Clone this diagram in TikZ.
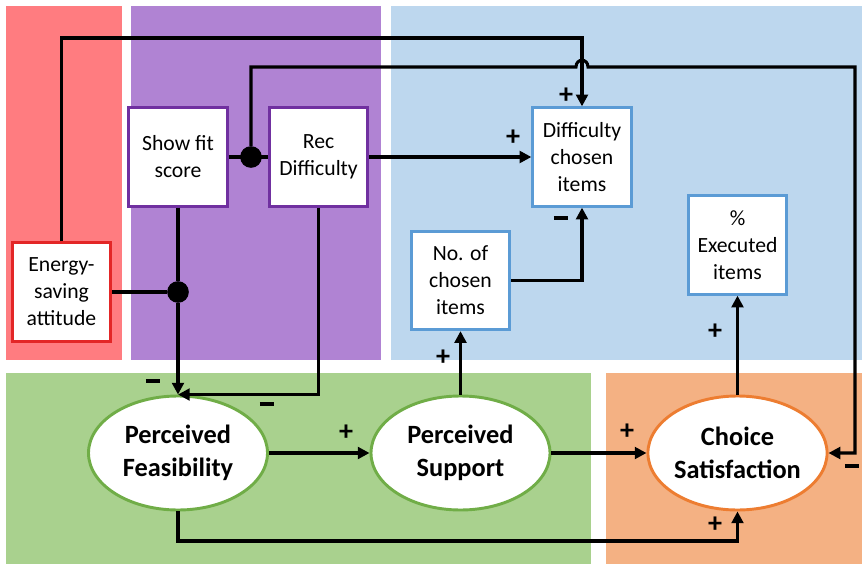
\documentclass[tikz,border=0pt]{standalone}
\usepackage{fontspec}
\setmainfont{Carlito}
\usetikzlibrary{arrows.meta, positioning, shapes.geometric}

\definecolor{panelred}{HTML}{FF7C80}
\definecolor{panelpurple}{HTML}{B083D3}
\definecolor{panelblue}{HTML}{BDD7EE}
\definecolor{panelgreen}{HTML}{A9D18E}
\definecolor{panelorange}{HTML}{F4B183}
\definecolor{edgered}{HTML}{E32626}
\definecolor{edgepurple}{HTML}{7030A0}
\definecolor{edgeblue}{HTML}{5B9BD5}
\definecolor{edgegreen}{HTML}{70AD47}
\definecolor{edgeorange}{HTML}{ED7D31}

\newcommand{\negsign}{\rule{12pt}{3pt}}

\begin{document}
\begin{tikzpicture}[
          x=0.03cm, y=-0.03cm,
          box/.style={rectangle, draw, line width=2.5pt, fill=white,
                      minimum width=2.95cm, minimum height=2.95cm,
                      inner sep=1pt, align=center,
                      font=\fontsize{18.5}{23}\selectfont},
          construct/.style={ellipse, draw, line width=2.5pt, fill=white,
                      minimum width=5.37cm, minimum height=3.42cm,
                      inner sep=0pt, align=center,
                      font=\fontsize{22.5}{28}\selectfont\bfseries},
          link/.style={line width=2.6pt},
          arr/.style={-{Triangle[length=10pt, width=10pt]}, line width=2.6pt},
          dot/.style={circle, fill=black, inner sep=0pt, minimum size=0.65cm},
          sign/.style={font=\fontsize{24}{24}\selectfont\bfseries, inner sep=0pt},
        ]
          \useasboundingbox (0,0) rectangle (868,564);
          % coloured panels
          \fill[panelred]    (6,6)     rectangle (122,360);
          \fill[panelpurple] (131,6)   rectangle (381,360);
          \fill[panelblue]   (391,6)   rectangle (862,360);
          \fill[panelgreen]  (6,373)   rectangle (591,564);
          \fill[panelorange] (606,373) rectangle (862,564);

          \node[box, draw=edgered]    (esa) at (61.5,292) {Energy-\\saving\\attitude};
          \node[box, draw=edgepurple] (sfs) at (178,157)  {Show fit\\score};
          \node[box, draw=edgepurple, right=1.18cm of sfs] (rec) {Rec\\Difficulty};
          \node[box, draw=edgeblue]   (dci) at (582,157)  {Difficulty\\chosen\\items};
          \node[box, draw=edgeblue]   (nci) at (460.5,280.5) {No. of\\chosen\\items};
          \node[box, draw=edgeblue]   (exe) at (737.5,245) {\%\\Executed\\items};

          \node[construct, draw=edgegreen]  (pf) at (178,453)   {Perceived\\Feasibility};
          \node[construct, draw=edgegreen]  (ps) at (460.5,453) {Perceived\\Support};
          \node[construct, draw=edgeorange] (cs) at (737.5,453) {Choice\\Satisfaction};

          \node[dot] (jrec) at (251,157) {};
          \node[dot] (jesa) at (178,292) {};

          \draw[arr] (esa.north) -- (esa.north |- 0,38) -| (dci.north);
          \draw[link] (sfs.east) -- (rec.west);
          \draw[arr] (jrec) -- (jrec |- 0,67) -- (576,67)
                     .. controls (576,58) and (588,58) .. (588,67)
                     -- (855,67) |- (cs.east);
          \draw[arr] (rec.east) -- (dci.west);
          \draw[link] (sfs.south) -- (jesa);
          \draw[link] (esa.east) -- (jesa);
          \draw[arr] (jesa) -- (pf.north);
          \draw[arr] (rec.south) |- (pf.north);
          \draw[arr] (pf) -- (ps);
          \draw[arr] (ps) -- (nci);
          \draw[arr] (nci.east) -| (dci.south);
          \draw[arr] (ps) -- (cs);
          \draw[arr] (cs) -- (exe);
          \draw[arr] (pf.south) -- (pf.south |- 0,541) -| (cs.south);

          % signs of the paths
          \node[sign] (s1)  at (566,96)  {+};
          \node[sign] (s2)  at (513,138) {+};
          \node[sign] (s3)  at (561,218) {\negsign};
          \node[sign] (s4)  at (443,358) {+};
          \node[sign] (s5)  at (153,381) {\negsign};
          \node[sign] (s6)  at (267,404) {\negsign};
          \node[sign] (s7)  at (346,433) {+};
          \node[sign] (s8)  at (627,432) {+};
          \node[sign] (s9)  at (715,332) {+};
          \node[sign] (s10) at (715,525) {+};
          \node[sign] (s11) at (852,466) {\negsign};
        \end{tikzpicture}
\end{document}
